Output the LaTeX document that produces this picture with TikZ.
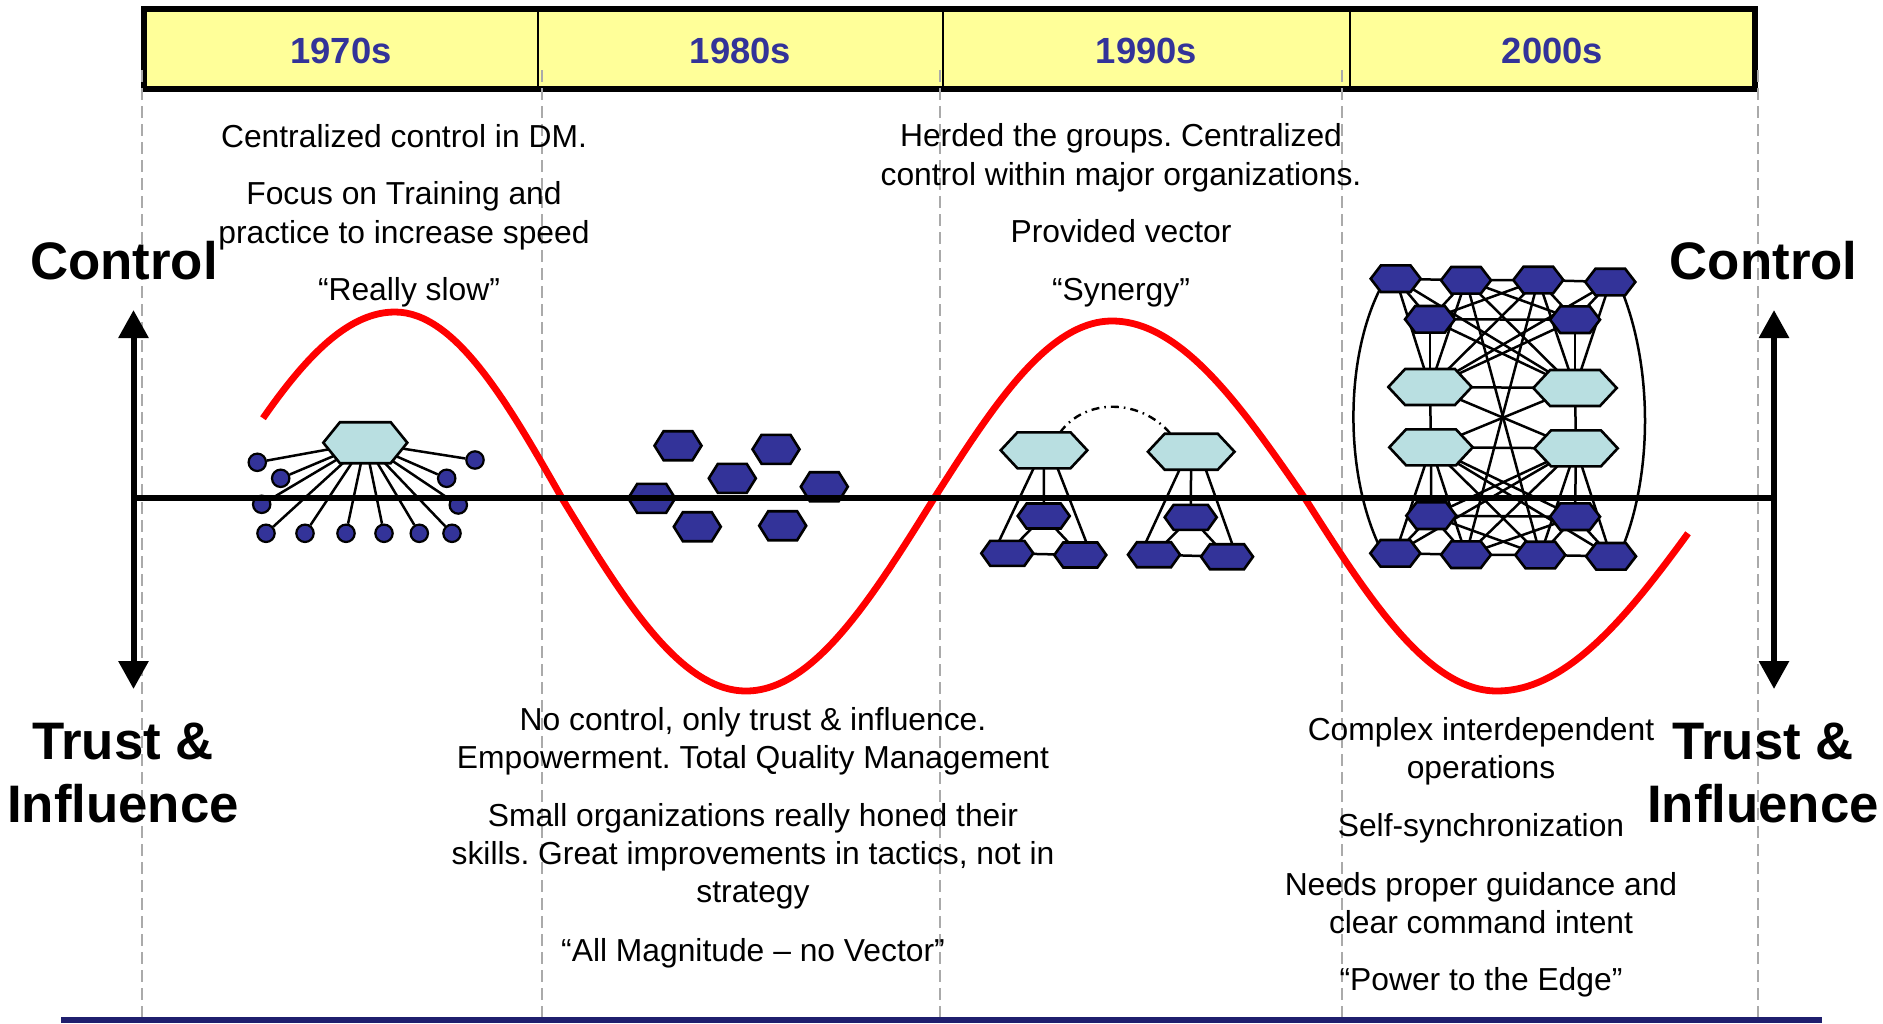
\documentclass[tikz,border=0pt]{standalone}
\usepackage{fontspec}
\setmainfont{Liberation Sans}
\usetikzlibrary{arrows.meta,shapes.symbols,backgrounds}
\definecolor{barYellow}{HTML}{FFFF99}
\definecolor{navyText}{HTML}{333399}
\definecolor{hexNavy}{HTML}{333399}
\definecolor{hexCyan}{HTML}{B9DFE1}
\definecolor{gridGray}{HTML}{AAAAAA}
\definecolor{baseNavy}{HTML}{1F1F6E}
\frenchspacing
\begin{document}
\begin{tikzpicture}[x=0.5pt,y=-0.5pt,
  hexbase/.style={signal, signal to=east and west, draw=black, line width=1.3pt, inner sep=0pt, outer sep=0pt},
  navyA/.style={hexbase, fill=hexNavy, minimum width=23.5pt, minimum height=14.5pt, signal pointer angle=116},
  navyB/.style={hexbase, fill=hexNavy, minimum width=26pt, minimum height=12.5pt, signal pointer angle=109},
  navyC/.style={hexbase, fill=hexNavy, minimum width=25pt, minimum height=13.3pt, signal pointer angle=105},
  cyanHub/.style={hexbase, fill=hexCyan, minimum width=42pt, minimum height=20.5pt, signal pointer angle=102},
  cyanB/.style={hexbase, fill=hexCyan, minimum width=43.3pt, minimum height=18pt, signal pointer angle=94},
  cyanC/.style={hexbase, fill=hexCyan, minimum width=41.7pt, minimum height=18pt, signal pointer angle=94},
  leafdot/.style={circle, draw=black, line width=1.1pt, fill=hexNavy, minimum size=8.7pt, inner sep=0pt},
  link/.style={draw=black, line width=1.25pt},
  dashdotlink/.style={draw=black, line width=1.2pt, dash pattern=on 4pt off 2.5pt on 0.8pt off 2.5pt},
  gridline/.style={draw=gridGray, line width=1pt, dash pattern=on 6pt off 3pt},
  wave/.style={draw=red, line width=3.4pt, line join=round},
  axisline/.style={draw=black, line width=2.8pt},
  bigarrow/.style={draw=black, line width=3pt, {Triangle[width=14.5pt,length=14pt]}-{Triangle[width=14.5pt,length=14pt]}},
  bodytext/.style={font=\fontsize{15.9pt}{19pt}\selectfont, anchor=base, inner sep=0pt},
  bigtext/.style={font=\fontsize{26.4pt}{31pt}\selectfont\bfseries, anchor=base, inner sep=0pt},
  yearlabel/.style={font=\fontsize{18.2pt}{22pt}\selectfont\bfseries, text=navyText, anchor=base, inner sep=0pt}
]
\useasboundingbox (0,0) rectangle (1883,1023);

% ---- top bar ----
\draw[fill=barYellow, line width=2.75pt] (144,9) rectangle (1755,89);
\foreach \dx in {538,943,1350} \draw[line width=1pt] (\dx,9) -- (\dx,89);
\node[yearlabel] (y70) at (341,63.3) {1970s};
\node[yearlabel] (y80) at (740.5,63.3) {1980s};
\node[yearlabel] (y90) at (1146.5,63.3) {1990s};
\node[yearlabel] (y00) at (1552.5,63.3) {2000s};

% ---- dashed grid ----
\foreach \gx in {142,542,940,1342,1758} \draw[gridline] (\gx,70) -- (\gx,1017);

% ---- red wave ----
\draw[wave] plot[domain=263:395, samples=30, smooth] (\x,{500-188*cos((395-\x)*0.486486)})
  cos (563,500) sin (746,691) cos (933,500) sin (1112,321) cos (1306,500) sin (1497,691)
  -- plot[domain=1497:1688, samples=30, smooth] (\x,{500+191*cos((\x-1497)*0.418605)});

% ---- 1970s star ----
\node[cyanHub] (hub) at (365.3,442.7) {};
\node[leafdot] (s1) at (257.3,462.3) {};
\node[leafdot] (s2) at (280.7,478.3) {};
\node[leafdot] (s3) at (261.7,504.3) {};
\node[leafdot] (s4) at (266,533.3) {};
\node[leafdot] (s5) at (305,533.3) {};
\node[leafdot] (s6) at (346,533.3) {};
\node[leafdot] (s7) at (384,533.3) {};
\node[leafdot] (s8) at (419.3,533.3) {};
\node[leafdot] (s9) at (452,533.3) {};
\node[leafdot] (s10) at (458.3,505) {};
\node[leafdot] (s11) at (446.7,478.3) {};
\node[leafdot] (s12) at (475,460) {};

% ---- 1980s scattered ----
\node[navyA] (e1) at (678,445.7) {};
\node[navyA] (e2) at (776,449.3) {};
\node[navyA] (e3) at (732.3,478.3) {};
\node[navyA] (e4) at (824.3,486.7) {};
\node[navyA] (e5) at (651.7,498.3) {};
\node[navyA] (e6) at (697.3,526.7) {};
\node[navyA] (e7) at (782.7,525.7) {};

% ---- 1990s groups ----
\node[cyanB] (L1) at (1044,450.3) {};
\node[navyB] (LT) at (1043.7,516) {};
\node[navyB] (LBL) at (1007.3,553.3) {};
\node[navyB] (LBR) at (1080.3,555) {};
\node[cyanB] (R1) at (1191.2,451.7) {};
\node[navyB] (RT) at (1190.7,517.3) {};
\node[navyB] (RBL) at (1154,554.7) {};
\node[navyB] (RBR) at (1227,556.7) {};

% ---- 2000s mesh ----
\node[navyC] (N1) at (1395.7,278.7) {};
\node[navyC] (N2) at (1466,280.3) {};
\node[navyC] (N3) at (1538.3,280) {};
\node[navyC] (N4) at (1610.3,282) {};
\node[navyC] (N5) at (1430,319.3) {};
\node[navyC] (N6) at (1575,319.7) {};
\node[cyanC] (C1) at (1430,387) {};
\node[cyanC] (C2) at (1575,388) {};
\node[cyanC] (C3) at (1431,447.3) {};
\node[cyanC] (C4) at (1576,448.3) {};
\node[navyC] (N7) at (1431.3,515.7) {};
\node[navyC] (N8) at (1575,516.7) {};
\node[navyC] (N9) at (1395.3,553.3) {};
\node[navyC] (N10) at (1466,554.7) {};
\node[navyC] (N11) at (1540.3,555) {};
\node[navyC] (N12) at (1611,556.3) {};

% ---- connectors (behind the nodes) ----
\begin{scope}[on background layer]
  \foreach \i in {1,...,12} \draw[link] (hub) -- (s\i);
  % 1990s
  \draw[link] (L1.240) -- (LBL.123);
  \draw[link] (L1) -- (LT);
  \draw[link] (L1.-53) -- (LBR.64);
  \draw[link] (LT) -- (LBL);
  \draw[link] (LT) -- (LBR);
  \draw[link] (LBL) -- (LBR);
  \draw[link] (R1.237) -- (RBL.123);
  \draw[link] (R1) -- (RT);
  \draw[link] (R1.-51) -- (RBR.67);
  \draw[link] (RT) -- (RBL);
  \draw[link] (RT) -- (RBR);
  \draw[link] (RBL) -- (RBR);
  \draw[dashdotlink] (L1.48) .. controls (1085,398) and (1140,398) .. (R1.139);
  % 2000s
  \foreach \a/\b in {N1/N2, N2/N3, N3/N4, N5/N6, C1/C2, C3/C4, N7/N8, N9/N10, N10/N11, N11/N12,
                     C1/C3, C2/C4,
                     N1/N5, N1/C1, N2/N5, N2/C1, N5/C1, N3/N6, N4/N6, N4/C2, N3/C2, N6/C2,
                     N1/C2, N4/C1, N2/N6, N3/N5, N5/C2, N6/C1, N3/C1, N2/C2,
                     C1/C4, C2/C3, N2/N11, N3/N10,
                     C3/N7, C3/N9, C3/N10, N7/N9, N7/N10, C4/N8, C4/N12, C4/N11, N8/N12, N8/N11,
                     C3/N12, C4/N9, C3/N8, C4/N7, N7/N11, N8/N10, C3/N11, C4/N10}
    \draw[link] (\a) -- (\b);
  \draw[link] (N1.215) .. controls (1345,360) and (1345,470) .. (N9.150);
  \draw[link] (N4.-45) .. controls (1652,370) and (1652,470) .. (N12.45);
\end{scope}

% ---- axes ----
\coordinate (axL) at (133.5,498);
\coordinate (axR) at (1774,498);
\coordinate (lTop) at (133.5,310);
\coordinate (lBot) at (133.5,689);
\coordinate (rTop) at (1774,310);
\coordinate (rBot) at (1774,689);
\draw[axisline] (axL) -- (axR);
\draw[bigarrow] (lTop) -- (lBot);
\draw[bigarrow] (rTop) -- (rBot);

% ---- side labels ----
\node[bigtext] (ctlL) at (124,279) {Control};
\node[bigtext] (ctlR) at (1763.6,279) {Control};
\node[bigtext] (trL) at (123,759.3) {Trust \&};
\node[bigtext] (inL) at (123,822.7) {Influence};
\node[bigtext] (trR) at (1763,759.3) {Trust \&};
\node[bigtext] (inR) at (1763,822.7) {Influence};

% ---- 1970s text ----
\node[bodytext] (a1) at (404,147.3) {Centralized control in DM.};
\node[bodytext] (a2) at (404,204) {Focus on Training and};
\node[bodytext] (a3) at (404,243.3) {practice to increase speed};
\node[bodytext] (a4) at (409,300) {“Really slow”};

% ---- 1990s text ----
\node[bodytext] (b1) at (1121,146.7) {Herded the groups. Centralized};
\node[bodytext] (b2) at (1121,185) {control within major organizations.};
\node[bodytext] (b3) at (1121,242.7) {Provided vector};
\node[bodytext] (b4) at (1121,300) {“Synergy”};

% ---- 1980s text ----
\node[bodytext] (m1) at (753,730) {No control, only trust \& influence.};
\node[bodytext] (m2) at (753,768.3) {Empowerment. Total Quality Management};
\node[bodytext] (m3) at (753,826.7) {Small organizations really honed their};
\node[bodytext] (m4) at (753,864.5) {skills. Great improvements in tactics, not in};
\node[bodytext] (m5) at (753,902.5) {strategy};
\node[bodytext] (m6) at (753,961.7) {“All Magnitude – no Vector”};

% ---- 2000s text ----
\node[bodytext] (p1) at (1481,740.5) {Complex interdependent};
\node[bodytext] (p2) at (1481,778.5) {operations};
\node[bodytext] (p3) at (1481,836.7) {Self-synchronization};
\node[bodytext] (p4) at (1481,895) {Needs proper guidance and};
\node[bodytext] (p5) at (1481,933) {clear command intent};
\node[bodytext] (p6) at (1481,990) {“Power to the Edge”};

% ---- bottom rule ----
\coordinate (bl) at (61,1019.7);
\coordinate (br) at (1822,1019.7);
\draw[draw=baseNavy, line width=3pt] (bl) -- (br);
\end{tikzpicture}
\end{document}
